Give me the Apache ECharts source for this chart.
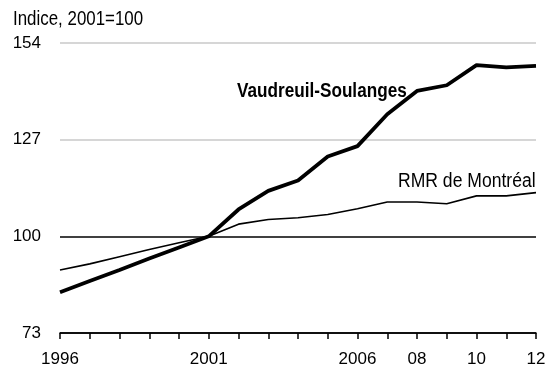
<!DOCTYPE html>
<html>
<head>
<meta charset="utf-8">
<script src="https://cdn.jsdelivr.net/npm/echarts@6/dist/echarts.min.js"></script>
<style>
  html, body { margin: 0; padding: 0; background: #fff; }
  #chart { width: 557px; height: 368px; }
</style>
</head>
<body>
<div id="chart"></div>
<script>
// Indice, 2001 = 100
const years = [1996, 1997, 1998, 1999, 2000, 2001, 2002, 2003, 2004, 2005, 2006, 2007, 2008, 2009, 2010, 2011, 2012];
const vaudreuil = [84.4, 87.5, 90.6, 93.8, 96.9, 100, 107.5, 112.7, 115.6, 122.3, 125.2, 134.1, 140.6, 142.2, 147.8, 147.2, 147.6];
const montreal = [90.6, 92.3, 94.3, 96.3, 98.2, 100, 103.4, 104.7, 105.2, 106.1, 107.7, 109.6, 109.6, 109.1, 111.3, 111.3, 112.2];
const yearLabels = { 1996: '1996', 2001: '2001', 2006: '2006', 2008: '08', 2010: '10', 2012: '12' };
const yTicks = [73, 100, 127, 154];

const FONT = "'Liberation Sans', Arial, sans-serif";

const chart = echarts.init(document.getElementById('chart'), null, { renderer: 'canvas' });

chart.setOption({
  animation: false,
  backgroundColor: '#fff',
  textStyle: { fontFamily: FONT },
  grid: { left: 60, right: 21, top: 43, bottom: 35 },
  xAxis: {
    type: 'value',
    min: years[0],
    max: years[years.length - 1],
    interval: 1,
    axisLine: { show: true, lineStyle: { color: '#000', width: 1.5 } },
    axisTick: { show: true, inside: false, length: 6, lineStyle: { color: '#000', width: 1.5 } },
    splitLine: { show: false },
    axisLabel: {
      color: '#000',
      fontFamily: FONT,
      fontSize: 17,
      margin: 18,
      formatter: v => yearLabels[v] || ''
    }
  },
  yAxis: {
    type: 'value',
    min: yTicks[0],
    max: yTicks[yTicks.length - 1],
    interval: yTicks[1] - yTicks[0],
    axisLine: { show: false },
    axisTick: { show: false },
    axisLabel: { color: '#000', fontFamily: FONT, fontSize: 17, margin: 19 },
    splitLine: {
      show: true,
      lineStyle: { color: ['#000', '#000', '#c8c8c8', '#c8c8c8'], width: 1.5 }
    }
  },
  graphic: [
    {
      type: 'text', x: 13, y: 9, scaleX: 0.845,
      style: { text: 'Indice, 2001=100', fill: '#000', font: '20px ' + FONT }
    },
    {
      type: 'text', x: 237, y: 81, scaleX: 0.858,
      style: { text: 'Vaudreuil-Soulanges', fill: '#000', font: 'bold 20px ' + FONT }
    },
    {
      type: 'text', x: 398, y: 171, scaleX: 0.878,
      style: { text: 'RMR de Montréal', fill: '#000', font: '20px ' + FONT }
    }
  ],
  series: [
    {
      name: 'RMR de Montréal',
      type: 'line',
      data: years.map((y, i) => [y, montreal[i]]),
      showSymbol: false,
      lineStyle: { color: '#000', width: 1.6 },
      z: 3
    },
    {
      name: 'Vaudreuil-Soulanges',
      type: 'line',
      data: years.map((y, i) => [y, vaudreuil[i]]),
      showSymbol: false,
      lineStyle: { color: '#000', width: 3.8 },
      z: 4
    }
  ]
});
</script>
</body>
</html>
